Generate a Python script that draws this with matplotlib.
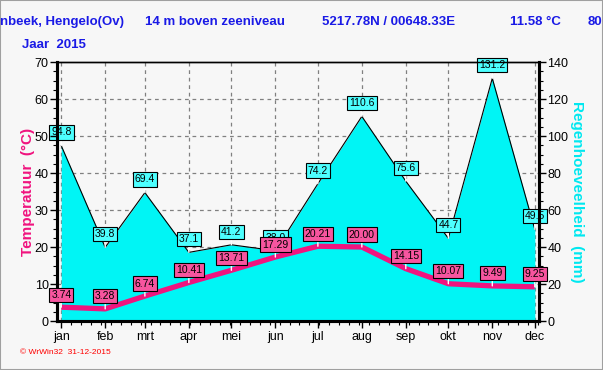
import numpy as np
import matplotlib.pyplot as plt
from matplotlib.ticker import MultipleLocator

months = ['jan', 'feb', 'mrt', 'apr', 'mei', 'jun', 'jul', 'aug', 'sep', 'okt', 'nov', 'dec']
month_day = [0, 31, 59, 90, 120, 151, 181, 212, 243, 273, 304, 334]
temp = [3.74, 3.28, 6.74, 10.41, 13.71, 17.29, 20.21, 20.00, 14.15, 10.07, 9.49, 9.25]
rain = [94.8, 39.8, 69.4, 37.1, 41.2, 38.0, 74.2, 110.6, 75.6, 44.7, 131.2, 49.5]
temp_labels = ['3.74', '3.28', '6.74', '10.41', '13.71', '17.29', '20.21', '20.00', '14.15', '10.07', '9.49', '9.25']
rain_labels = ['94.8', '39.8', '69.4', '37.1', '41.2', '38.0', '74.2', '110.6', '75.6', '44.7', '131.2', '49.5']

plt.rcParams['font.family'] = ['Liberation Sans', 'DejaVu Sans']

bg = '#f7f7f7'
blue = '#1a1ae6'
pink = '#f0147f'
cyan = '#00f5f5'

fig = plt.figure(figsize=(6.03, 3.70), dpi=100, facecolor=bg)
# rain axis first so the temperature axis is drawn on top of it
ax_r = fig.add_axes([0.0945, 0.1324, 0.7995, 0.70])
ax_t = ax_r.twinx()
ax_r.set_facecolor(bg)
ax_t.patch.set_visible(False)

# move the rain axis to the right, temperature to the left
ax_r.yaxis.tick_right()
ax_r.yaxis.set_label_position('right')
ax_t.yaxis.tick_left()
ax_t.yaxis.set_label_position('left')

ax_r.set_xlim(-3, 337)
ax_r.set_ylim(0, 140)
ax_t.set_ylim(0, 70)

# grid
for d in month_day:
    ax_r.axvline(d, color='#808080', ls=(0, (3, 3)), lw=0.9, zorder=0)
for v in range(20, 140, 20):
    ax_r.axhline(v, color='#808080', ls=(0, (3, 3)), lw=0.9, zorder=0)

# rain area
ax_r.fill_between(month_day, 0, rain, color=cyan, zorder=2, lw=0)
ax_r.plot(month_day, rain, color='black', lw=0.8, zorder=3)

for d, v, s in zip(month_day, rain, rain_labels):
    ax_r.annotate(s, xy=(d, v), xytext=(0, 9.5), textcoords='offset points',
                  ha='center', va='center', fontsize=7.5, color='black', zorder=5,
                  bbox=dict(boxstyle='square,pad=0.2', fc='#4dffff', ec='black', lw=0.8),
                  arrowprops=dict(arrowstyle='-', color='white', lw=1, shrinkA=0, shrinkB=0))

# temperature line
ax_t.plot(month_day, temp, color=pink, lw=3.8, solid_capstyle='butt', zorder=4)
for d, v, s in zip(month_day, temp, temp_labels):
    ax_t.annotate(s, xy=(d, v), xytext=(0, 9), textcoords='offset points',
                  ha='center', va='center', fontsize=7.5, color='black', zorder=6,
                  bbox=dict(boxstyle='square,pad=0.2', fc='#f7559f', ec='black', lw=0.8),
                  arrowprops=dict(arrowstyle='-', color='white', lw=1, shrinkA=0, shrinkB=0))

# ticks
ax_r.set_xticks(month_day)
ax_r.set_xticklabels(months, fontsize=9)
ax_r.xaxis.set_minor_locator(MultipleLocator(7))
ax_r.tick_params(axis='x', which='major', length=5, width=1, pad=2)
ax_r.tick_params(axis='x', which='minor', length=3, width=0.8)
ax_r.yaxis.set_major_locator(MultipleLocator(20))
ax_r.yaxis.set_minor_locator(MultipleLocator(5))
ax_r.tick_params(axis='y', which='major', length=5, width=1, labelsize=9, pad=1)
ax_r.tick_params(axis='y', which='minor', length=3, width=0.8)
ax_t.yaxis.set_major_locator(MultipleLocator(10))
ax_t.yaxis.set_minor_locator(MultipleLocator(2.5))
ax_t.tick_params(axis='y', which='major', length=5, width=1, labelsize=9, pad=1)
ax_t.tick_params(axis='y', which='minor', length=3, width=0.8)

for a in (ax_r, ax_t):
    a.spines['left'].set_linewidth(2.2)
    a.spines['right'].set_linewidth(2.2)
    a.spines['bottom'].set_linewidth(2.2)
    a.spines['top'].set_linewidth(1)

ax_t.set_ylabel('Temperatuur  (°C)', color=pink, fontsize=11, fontweight='bold', labelpad=0)
ax_r.set_ylabel('Regenhoeveelheid  (mm)', color='#00e8f0', fontsize=11, fontweight='bold',
                rotation=-90, labelpad=11)

# header texts
hdr = dict(color=blue, fontsize=9.5, fontweight='bold', va='center', ha='left')
fig.text(0.0, 0.94, 'nbeek, Hengelo(Ov)', **hdr)
fig.text(145 / 603, 0.94, '14 m boven zeeniveau', **hdr)
fig.text(322 / 603, 0.94, '5217.78N / 00648.33E', **hdr)
fig.text(510 / 603, 0.94, '11.58 °C', **hdr)
fig.text(588 / 603, 0.94, '80', **hdr)
fig.text(22 / 603, 0.878, 'Jaar  2015', **hdr)
fig.text(20 / 603, 1 - 352 / 370, '© WrWin32  31-12-2015', color='red', fontsize=6,
         va='center', ha='left')

fig.patches.append(plt.Rectangle((0, 0), 1, 1, transform=fig.transFigure, fill=False,
                                 ec='#a0a0a0', lw=1.5))

fig.savefig('out.png', dpi=100, facecolor=bg)
